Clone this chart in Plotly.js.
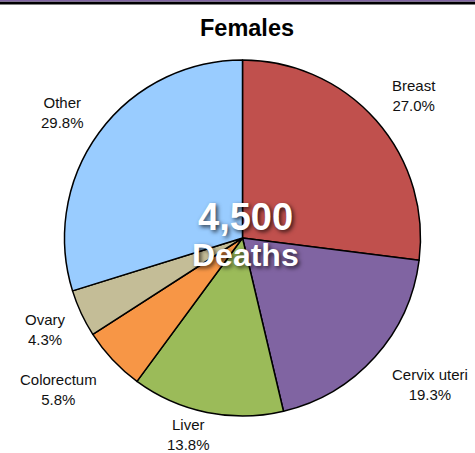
<!DOCTYPE html>
<html><head><meta charset="utf-8">
<script src="https://cdn.plot.ly/plotly-3.0.1.min.js"></script>
<style>html,body{margin:0;padding:0;background:#fff;}#chart{width:475px;height:453px;}</style>
</head><body><div id="chart"></div>
<script>
const categories = ["Breast", "Cervix uteri", "Liver", "Colorectum", "Ovary", "Other"];
const percents = [27.0, 19.3, 13.8, 5.8, 4.3, 29.8];
const colors = ["#c0504d", "#8064a2", "#9bbb59", "#f79646", "#c4bd97", "#99ccff"];
const totalDeaths = "4,500";
const title = "Females";

// label anchor positions in pixels (layout only)
const labelPos = [[414, 96], [430, 384], [188, 434], [58, 389], [45, 329], [62, 113]];
const W = 475, H = 453;

const annotations = categories.map((c, i) => ({
  xref: "paper", yref: "paper",
  x: labelPos[i][0] / W, y: 1 - labelPos[i][1] / H,
  xanchor: "center", yanchor: "middle", showarrow: false, borderpad: 0,
  text: c + "<br>" + percents[i].toFixed(1) + "%",
  font: {family: "Liberation Sans, Arial, sans-serif", size: 15, color: "#111"}
}));
annotations.push({
  xref: "paper", yref: "paper", x: 245 / W, y: 1 - 217 / H,
  xanchor: "center", yanchor: "middle", showarrow: false, text: "<b>" + totalDeaths + "</b>",
  font: {family: "Liberation Sans, Arial, sans-serif", size: 38, color: "#fff", shadow: "2px 2px 4px rgba(0,0,0,0.7)"}
});
annotations.push({
  xref: "paper", yref: "paper", x: 245 / W, y: 1 - 255 / H,
  xanchor: "center", yanchor: "middle", showarrow: false, text: "<b>Deaths</b>",
  font: {family: "Liberation Sans, Arial, sans-serif", size: 32, color: "#fff", shadow: "2px 2px 4px rgba(0,0,0,0.7)"}
});

const cx = 242.5, cy = 238, r = 178;
const data = [{
  type: "pie", labels: categories, values: percents, sort: false, direction: "clockwise",
  rotation: 0, textinfo: "none", hoverinfo: "label+percent",
  marker: {colors: colors, line: {color: "#000", width: 1.5}},
  domain: {x: [(cx - r) / W, (cx + r) / W], y: [(H - cy - r) / H, (H - cy + r) / H]}
}];

const layout = {
  width: W, height: H, margin: {l: 0, r: 0, t: 0, b: 0},
  paper_bgcolor: "#fff", showlegend: false,
  title: {text: "<b>" + title + "</b>", x: 247 / W, xanchor: "center", y: 1 - 28 / H, yanchor: "middle",
    font: {family: "Liberation Sans, Arial, sans-serif", size: 23.5, color: "#000"}},
  annotations: annotations,
  shapes: [
    {type: "rect", xref: "paper", yref: "paper", x0: 0, x1: 1, y0: 1 - 4.5 / H, y1: 1 - 1.5 / H, fillcolor: "#000", line: {width: 0}},
    {type: "rect", xref: "paper", yref: "paper", x0: 0, x1: 1, y0: 1 - 1.5 / H, y1: 1, fillcolor: "#8064a2", line: {width: 0}}
  ]
};
Plotly.newPlot("chart", data, layout, {displayModeBar: false, staticPlot: true});
</script></body></html>
